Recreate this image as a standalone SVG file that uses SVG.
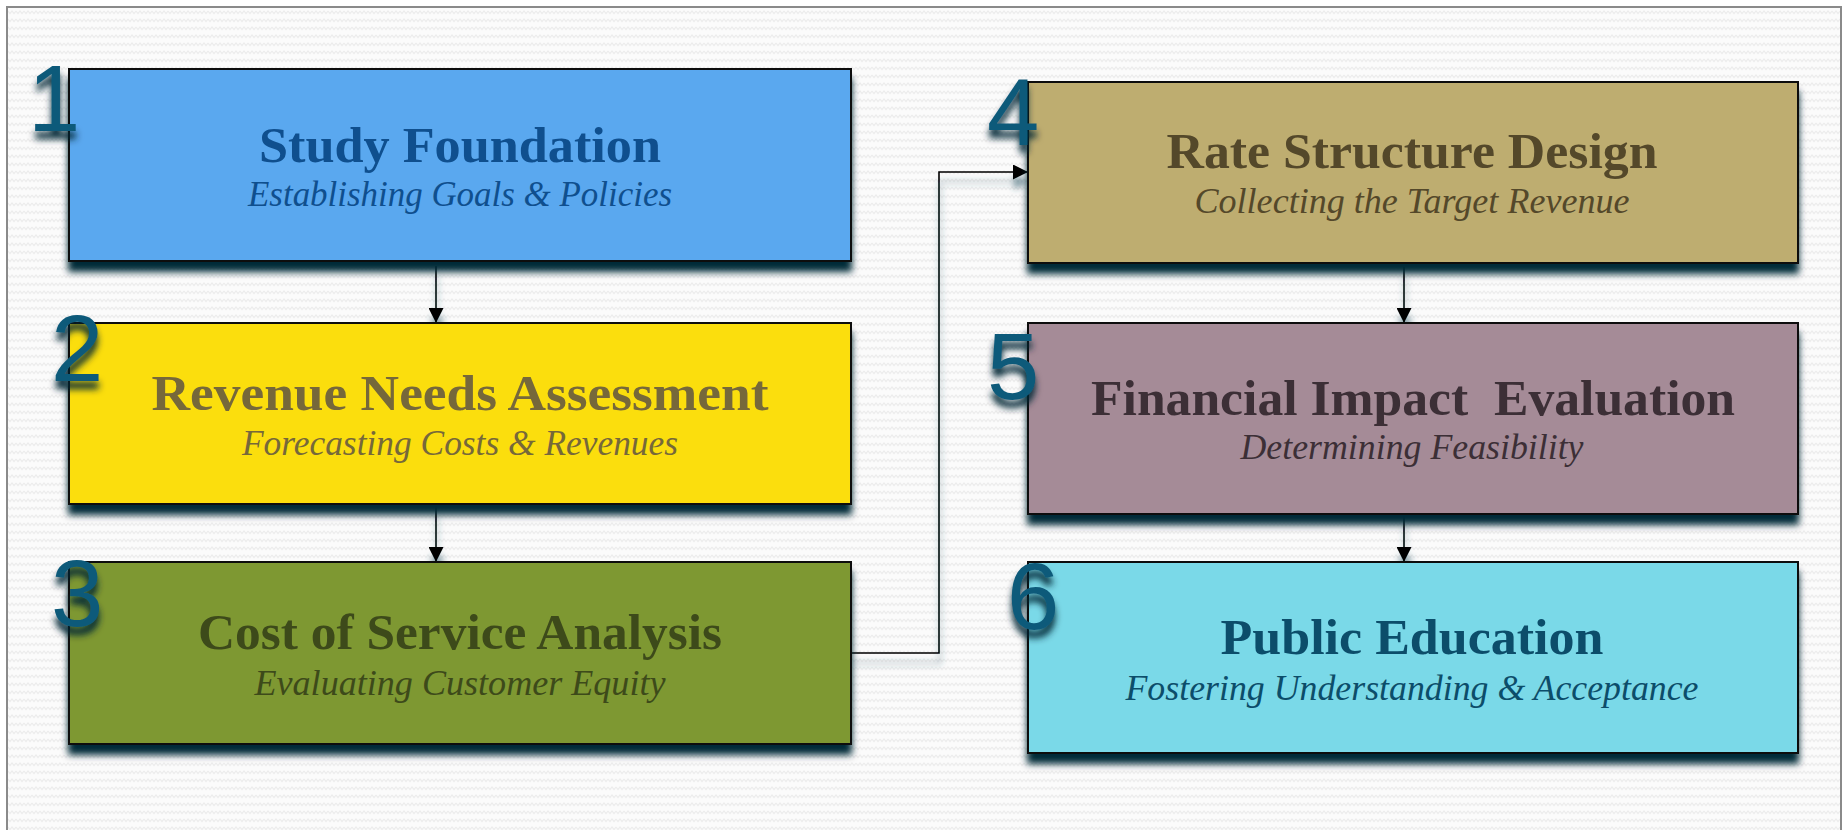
<svg xmlns="http://www.w3.org/2000/svg" width="1845" height="830" viewBox="0 0 1845 830">
  <defs>
    <pattern id="zigzag" width="8" height="8" patternUnits="userSpaceOnUse">
      <rect width="8" height="8" fill="#fbfbfb"/>
      <path d="M0,3 L2,5.5 L4,3 L6,5.5 L8,3" fill="none" stroke="#ececec" stroke-width="1.2"/>
    </pattern>
    <filter id="boxShadow" x="-5%" y="-10%" width="110%" height="135%">
      <feDropShadow dx="0" dy="10" stdDeviation="3.5" flood-color="#042a38" flood-opacity="1"/>
    </filter>
    <filter id="numShadow" x="-30%" y="-30%" width="160%" height="160%">
      <feDropShadow dx="0" dy="8" stdDeviation="3.5" flood-color="#042634" flood-opacity="1"/>
    </filter>
    <filter id="lineShadow" filterUnits="userSpaceOnUse" x="0" y="0" width="1845" height="830">
      <feDropShadow dx="1" dy="10" stdDeviation="3" flood-color="#2f5868" flood-opacity="0.6"/>
    </filter>
    <marker id="arrow" markerUnits="userSpaceOnUse" markerWidth="15" markerHeight="15" refX="15" refY="7.5" orient="auto">
      <path d="M0,0 L15,7.5 L0,15 Z" fill="#000"/>
    </marker>
    <style>
      .box { stroke: #111; stroke-width: 2; filter: url(#boxShadow); }
      .num { font-family: "Liberation Sans", Arial, sans-serif; font-size: 94px; fill: #0f5a7a; filter: url(#numShadow); }
      .title { font-family: "Liberation Serif", "Times New Roman", serif; font-weight: bold; font-size: 51px; text-anchor: middle; }
      .sub { font-family: "Liberation Serif", "Times New Roman", serif; font-style: italic; font-size: 36px; text-anchor: middle; }
      .conn { fill: none; stroke: #000; stroke-width: 1.6; }
      .bar { stroke: #000; stroke-width: 2.5; }
    </style>
  </defs>

  <!-- page background and frame -->
  <rect x="0" y="0" width="1845" height="830" fill="#ffffff"/>
  <rect x="7" y="7" width="1834" height="840" fill="url(#zigzag)" stroke="#8a8a8a" stroke-width="2"/>

  <!-- connectors -->
  <g id="connectors" filter="url(#lineShadow)">
    <path class="conn" d="M436,266 L436,323" marker-end="url(#arrow)"/>
    <line class="bar" x1="421" y1="323.5" x2="452" y2="323.5"/>
    <path class="conn" d="M436,506 L436,562" marker-end="url(#arrow)"/>
    <line class="bar" x1="421" y1="562.5" x2="452" y2="562.5"/>
    <path class="conn" d="M851,653 L939,653 L939,172 L1028,172" marker-end="url(#arrow)"/>
    <path class="conn" d="M1404,267 L1404,323" marker-end="url(#arrow)"/>
    <line class="bar" x1="1389" y1="323.5" x2="1420" y2="323.5"/>
    <path class="conn" d="M1404,516 L1404,562" marker-end="url(#arrow)"/>
    <line class="bar" x1="1389" y1="562.5" x2="1420" y2="562.5"/>
  </g>

  <!-- step 1 -->
  <g id="step1">
    <rect class="box" x="69" y="69" width="782" height="192" fill="#5aa8ef"/>
    <text class="title" x="460" y="162" fill="#0f4f8e" textLength="402" lengthAdjust="spacingAndGlyphs">Study Foundation</text>
    <text class="sub" x="460" y="206" fill="#0f4f8e" textLength="424" lengthAdjust="spacingAndGlyphs">Establishing Goals &amp; Policies</text>
    <text class="num" x="28" y="131">1</text>
  </g>

  <!-- step 2 -->
  <g id="step2">
    <rect class="box" x="69" y="323" width="782" height="181" fill="#fbde0c"/>
    <text class="title" x="460" y="410" fill="#76683a" textLength="617" lengthAdjust="spacingAndGlyphs">Revenue Needs Assessment</text>
    <text class="sub" x="460" y="455" fill="#76683a" textLength="436" lengthAdjust="spacingAndGlyphs">Forecasting Costs &amp; Revenues</text>
    <text class="num" x="51" y="381">2</text>
  </g>

  <!-- step 3 -->
  <g id="step3">
    <rect class="box" x="69" y="562" width="782" height="182" fill="#7e9833"/>
    <text class="title" x="460" y="649" fill="#3d4a1a" textLength="524" lengthAdjust="spacingAndGlyphs">Cost of Service Analysis</text>
    <text class="sub" x="460" y="695" fill="#3d4a1a" textLength="411" lengthAdjust="spacingAndGlyphs">Evaluating Customer Equity</text>
    <text class="num" x="51" y="626">3</text>
  </g>

  <!-- step 4 -->
  <g id="step4">
    <rect class="box" x="1028" y="82" width="770" height="181" fill="#bead70"/>
    <text class="title" x="1412" y="168" fill="#54482a" textLength="491" lengthAdjust="spacingAndGlyphs">Rate Structure Design</text>
    <text class="sub" x="1412" y="213" fill="#54482a" textLength="435" lengthAdjust="spacingAndGlyphs">Collecting the Target Revenue</text>
    <text class="num" x="987" y="145">4</text>
  </g>

  <!-- step 5 -->
  <g id="step5">
    <rect class="box" x="1028" y="323" width="770" height="191" fill="#a58b97"/>
    <text class="title" x="1413" y="415" fill="#3c2f36" textLength="644" lengthAdjust="spacingAndGlyphs" xml:space="preserve">Financial Impact  Evaluation</text>
    <text class="sub" x="1412" y="459" fill="#3c2f36" textLength="343" lengthAdjust="spacingAndGlyphs">Determining Feasibility</text>
    <text class="num" x="987" y="399">5</text>
  </g>

  <!-- step 6 -->
  <g id="step6">
    <rect class="box" x="1028" y="562" width="770" height="191" fill="#7ad9e8"/>
    <text class="title" x="1412" y="654" fill="#0c4d6a" textLength="383" lengthAdjust="spacingAndGlyphs">Public Education</text>
    <text class="sub" x="1412" y="700" fill="#0c4d6a" textLength="573" lengthAdjust="spacingAndGlyphs">Fostering Understanding &amp; Acceptance</text>
    <text class="num" x="1007" y="629">6</text>
  </g>
</svg>
